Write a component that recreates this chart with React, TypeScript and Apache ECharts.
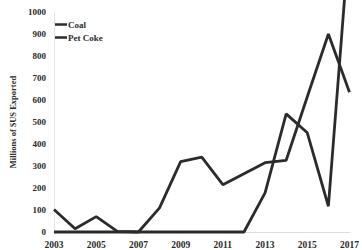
import React, { useEffect, useRef } from "react";
import * as echarts from "echarts";

const years = ["2003","2004","2005","2006","2007","2008","2009","2010","2011","2012","2013","2014","2015","2016","2017"];
const coal = [102, 15, 70, 3, 0, 110, 320, 340, 215, 265, 315, 326, 615, 900, 635];
const petCoke = [0, 0, 0, 0, 0, 0, 0, 0, 0, 0, 178, 537, 451, 117, 1350];
const yTitle = "Millions of $US Exported";

const FONT = "'Liberation Serif', serif";
const INK = "#2b2b2b";

export default function App() {
  const ref = useRef<HTMLDivElement>(null);
  useEffect(() => {
    if (!ref.current) return;
    const chart = echarts.init(ref.current, undefined, { renderer: "svg" });
    chart.setOption({
      animation: false,
      backgroundColor: "#ffffff",
      grid: { left: 50, right: 10, top: 12, bottom: 17.5, containLabel: false },
      legend: {
        orient: "vertical",
        left: 55,
        top: 20,
        itemWidth: 12,
        itemHeight: 2.5,
        itemGap: 4,
        icon: "rect",
        padding: 0,
        textStyle: { fontFamily: FONT, fontWeight: "bold", fontSize: 9, color: INK, padding: [0, 0, 0, -4] },
        data: [
          { name: "Coal", itemStyle: { color: INK } },
          { name: "Pet Coke", itemStyle: { color: INK } },
        ],
      },
      xAxis: {
        type: "category",
        data: years,
        boundaryGap: false,
        axisLine: { show: true, lineStyle: { color: "#dddddd", width: 1 } },
        axisTick: { show: false },
        axisLabel: { interval: 1, fontFamily: FONT, fontWeight: "bold", fontSize: 9.5, color: INK, margin: 8 },
        splitLine: { show: false },
      },
      yAxis: {
        type: "value",
        min: 0,
        max: 1000,
        interval: 100,
        name: yTitle,
        nameLocation: "middle",
        nameRotate: 90,
        nameGap: 37,
        nameTextStyle: { fontFamily: FONT, fontWeight: "bold", fontSize: 8.5, color: INK },
        axisLine: { show: true, lineStyle: { color: "#e4e4e4", width: 1 } },
        axisTick: { show: false },
        axisLabel: {
          formatter: (v: number) => String(v),
          fontFamily: FONT,
          fontWeight: "bold",
          fontSize: 9,
          color: INK,
          margin: 8,
          padding: [5, 0, 0, 0],
        },
        splitLine: { show: false },
      },
      series: [
        {
          name: "Coal",
          type: "line",
          data: coal,
          symbol: "none",
          clip: false,
          lineStyle: { color: INK, width: 2.8 },
          itemStyle: { color: INK },
        },
        {
          name: "Pet Coke",
          type: "line",
          data: petCoke,
          symbol: "none",
          clip: false,
          lineStyle: { color: INK, width: 2.8 },
          itemStyle: { color: INK },
        },
      ],
    });
    return () => chart.dispose();
  }, []);
  return <div ref={ref} style={{ width: 362, height: 250, position: "absolute", left: 0, top: 0 }} />;
}
